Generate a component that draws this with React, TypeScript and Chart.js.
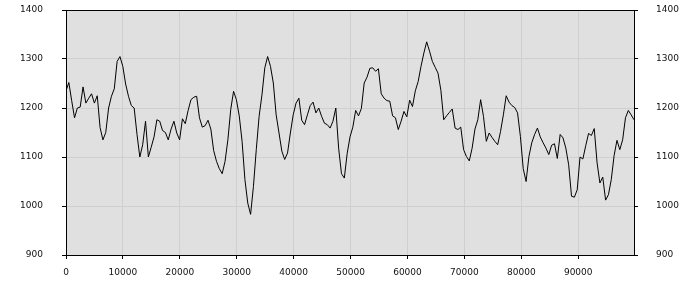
import React, { useEffect, useRef } from "react";
import { Chart, registerables } from "chart.js";

Chart.register(...registerables);

const X_STEP = 499;
const X_MAX = 99800;
const X_TICKS = [0, 10000, 20000, 30000, 40000, 50000, 60000, 70000, 80000, 90000];
const Y_TICKS = [900, 1000, 1100, 1200, 1300, 1400];
const VALUES = [
  1235, 1252, 1215, 1180, 1200, 1202, 1243, 1210, 1220, 1229,
  1210, 1225, 1160, 1135, 1150, 1200, 1224, 1239, 1295, 1305,
  1285, 1249, 1224, 1205, 1200, 1146, 1100, 1125, 1173, 1100,
  1120, 1141, 1176, 1173, 1154, 1150, 1135, 1157, 1173, 1149,
  1135, 1178, 1168, 1195, 1217, 1222, 1224, 1180, 1161, 1164,
  1175, 1157, 1113, 1091, 1076, 1066, 1091, 1135, 1197, 1234,
  1217, 1184, 1132, 1054, 1006, 983, 1040, 1115, 1183, 1227,
  1282, 1305, 1285, 1251, 1186, 1149, 1112, 1095, 1108, 1149,
  1186, 1210, 1220, 1175, 1166, 1186, 1205, 1212, 1190, 1200,
  1183, 1169, 1166, 1159, 1173, 1200, 1118, 1066, 1057, 1107,
  1141, 1161, 1195, 1184, 1199, 1251, 1263, 1281, 1282, 1275,
  1280, 1229, 1220, 1215, 1214, 1184, 1180, 1156, 1173, 1193,
  1182, 1216, 1203, 1235, 1254, 1285, 1312, 1335, 1316, 1295,
  1283, 1271, 1236, 1176, 1184, 1191, 1198, 1159, 1156, 1161,
  1115, 1101, 1092, 1118, 1157, 1176, 1217, 1183, 1132, 1149,
  1140, 1132, 1125, 1152, 1186, 1225, 1212, 1205, 1201, 1190,
  1142, 1076, 1050, 1101, 1129, 1146, 1159, 1141, 1129, 1118,
  1105, 1124, 1127, 1097, 1146, 1139, 1118, 1084, 1020, 1018,
  1033, 1100, 1096, 1123, 1148, 1144, 1158, 1088, 1047, 1059,
  1012, 1023, 1054, 1103, 1134, 1115, 1135, 1180, 1195, 1186,
  1176,
];

const GRID = "#cfcfcf";
const BG = "#e0e0e0";
const FONT = { family: "'DejaVu Sans', Verdana, sans-serif", size: 9 };
const TEXT = "#111";

const framePlugin = {
  id: "frame",
  beforeDraw(chart: any) {
    const { ctx, chartArea: a } = chart;
    ctx.save();
    ctx.fillStyle = BG;
    ctx.fillRect(a.left, a.top, a.right - a.left, a.bottom - a.top);
    ctx.restore();
  },
  afterDatasetsDraw(chart: any) {
    const { ctx, chartArea: a } = chart;
    ctx.save();
    ctx.strokeStyle = "#000";
    ctx.lineWidth = 1;
    ctx.strokeRect(a.left + 0.5, a.top + 0.5, a.right - a.left, a.bottom - a.top);
    ctx.restore();
  },
};

const fitY = (s: any) => {
  s.width = 66;
  s.paddingTop = 0;
  s.paddingBottom = 0;
};

export default function App() {
  const ref = useRef<HTMLCanvasElement>(null);
  useEffect(() => {
    if (!ref.current) return;
    const points = VALUES.map((v, i) => ({ x: i * X_STEP, y: v }));
    const yTicks = (s: any) => {
      s.ticks = Y_TICKS.map((v) => ({ value: v }));
    };
    const chart = new Chart(ref.current, {
      type: "line",
      data: {
        datasets: [
          {
            data: points,
            borderColor: "#000",
            borderWidth: 1,
            pointRadius: 0,
            tension: 0,
            fill: false,
          },
        ],
      },
      options: {
        animation: false,
        responsive: false,
        devicePixelRatio: 1,
        layout: { padding: { top: 10, left: 0, right: 0, bottom: 0 } },
        plugins: { legend: { display: false }, tooltip: { enabled: false } },
        scales: {
          x: {
            type: "linear",
            min: 0,
            max: X_MAX,
            afterBuildTicks: (s: any) => {
              s.ticks = X_TICKS.map((v) => ({ value: v }));
            },
            afterFit: (s: any) => {
              s.height = 45;
              s.paddingLeft = 0;
              s.paddingRight = 0;
            },
            grid: { color: GRID, tickColor: "#000", tickLength: 4, drawOnChartArea: true },
            border: { display: false },
            ticks: {
              padding: 8,
              maxRotation: 0,
              autoSkip: false,
              font: FONT,
              color: TEXT,
              callback: (v: any) => String(v),
            },
          },
          y: {
            type: "linear",
            position: "left",
            min: 900,
            max: 1400,
            afterBuildTicks: yTicks,
            afterFit: fitY,
            grid: { color: GRID, tickColor: "#000", tickLength: 4, drawOnChartArea: true },
            border: { display: false },
            ticks: { padding: 19, font: FONT, color: TEXT, callback: (v: any) => String(v) },
          },
          y2: {
            type: "linear",
            position: "right",
            min: 900,
            max: 1400,
            afterBuildTicks: yTicks,
            afterFit: fitY,
            grid: { color: GRID, tickColor: "#000", tickLength: 4, drawOnChartArea: false },
            border: { display: false },
            ticks: { padding: 18, font: FONT, color: TEXT, callback: (v: any) => String(v) },
          },
        },
      },
      plugins: [framePlugin],
    });
    return () => chart.destroy();
  }, []);

  return (
    <div style={{ position: "absolute", left: 0, top: 0, width: 700, height: 300, background: "#fff" }}>
      <canvas ref={ref} width={700} height={300} style={{ display: "block" }} />
    </div>
  );
}
